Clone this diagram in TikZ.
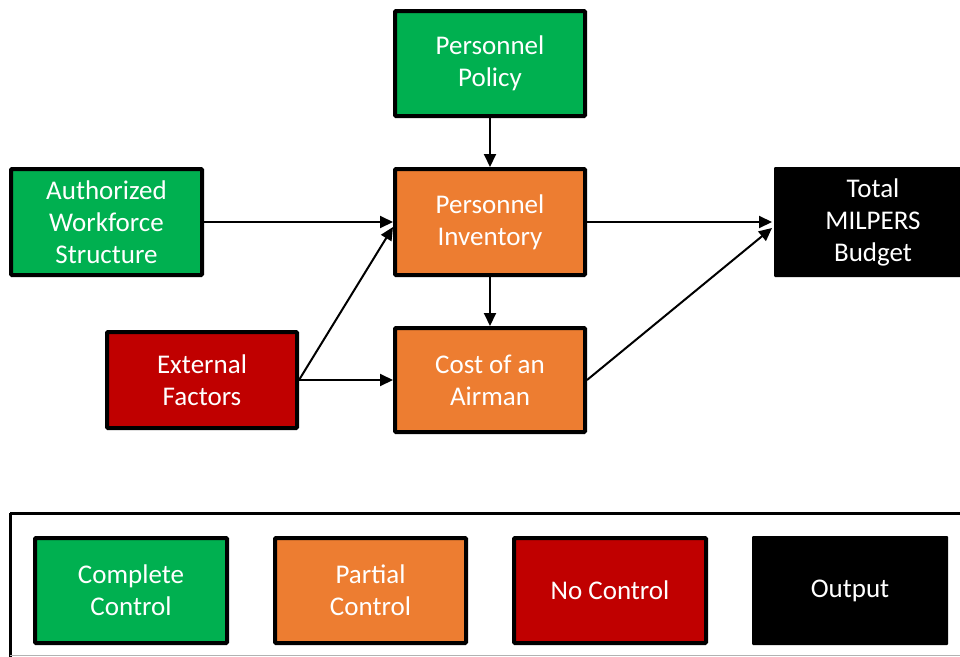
\documentclass[tikz,border=0pt]{standalone}
\usepackage{fontspec}
\setmainfont{Carlito}
\usetikzlibrary{arrows.meta,calc}
\definecolor{cgreen}{HTML}{00B050}
\definecolor{corange}{HTML}{ED7D31}
\definecolor{cred}{HTML}{C00000}
\begin{document}
\begin{tikzpicture}[x=1pt,y=-1pt,
  box/.style={draw=black,line width=4pt,text=white,align=center,
    font=\fontsize{27}{32}\selectfont,inner sep=0pt,rounded corners=1pt},
  gbox/.style={box,fill=cgreen},
  obox/.style={box,fill=corange},
  rbox/.style={box,fill=cred},
  kbox/.style={box,fill=black,draw=none},
  arr/.style={line width=2pt,-{Triangle[length=13pt,width=12pt]}}]
\useasboundingbox (0,0) rectangle (960,656);
\fill[white] (0,0) rectangle (960,656);
\begin{scope}
\clip (0,0) rectangle (960,656);
% legend frame
\draw[line width=3pt] (10,513) -- (975,513);
\draw[line width=3pt] (10,513) -- (10,660);
\draw[line width=1pt,gray!60] (10,655) -- (975,655);
% nodes
\node[gbox,minimum width=190pt,minimum height=105pt] (pol) at (490,63.5) {Personnel\\Policy};
\node[obox,minimum width=190pt,minimum height=106pt] (inv) at (490,222) {Personnel\\Inventory};
\node[obox,minimum width=190pt,minimum height=104pt] (cost) at (490,380) {Cost of an\\Airman};
\node[gbox,minimum width=191pt,minimum height=106pt] (auth) at (106.5,222) {Authorized\\Workforce\\Structure};
\node[rbox,minimum width=190pt,minimum height=96pt] (ext) at (202,380) {External\\Factors};
\node[kbox,minimum width=198pt,minimum height=110pt] (tot) at (873,222) {Total\\MILPERS\\Budget};
% legend items
\node[gbox,minimum width=192pt,minimum height=105pt] (lg1) at (131,590.5) {Complete\\Control};
\node[obox,minimum width=191pt,minimum height=105pt] (lg2) at (370.5,590.5) {Partial\\Control};
\node[rbox,minimum width=192pt,minimum height=105pt] (lg3) at (610,590.5) {No Control};
\node[kbox,minimum width=196pt,minimum height=109pt] (lg4) at (850,590.5) {Output};
% connectors
\draw[arr] (pol.south) -- (inv.north);
\draw[arr] (inv.south) -- (cost.north);
\draw[arr] (auth.east) -- (inv.west);
\draw[arr] (ext.east) -- ($(inv.west)+(0,5)$);
\draw[arr] (ext.east) -- (cost.west);
\draw[arr] (inv.east) -- (tot.west);
\draw[arr] (cost.east) -- ($(tot.west)+(0,6)$);
\end{scope}
\end{tikzpicture}
\end{document}
